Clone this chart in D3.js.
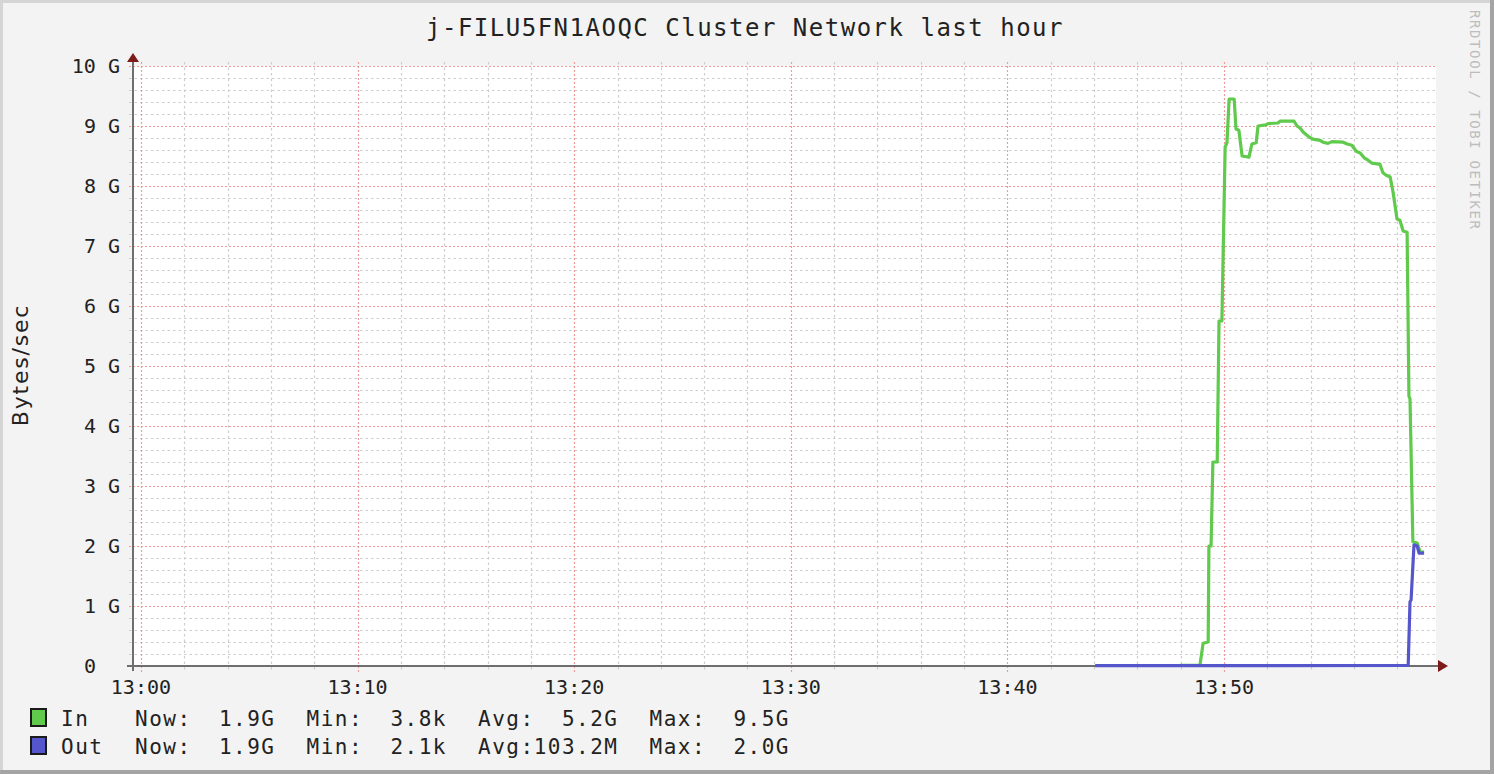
<!DOCTYPE html>
<html><head><meta charset="utf-8">
<script src="https://cdn.jsdelivr.net/npm/d3@7"></script>
<style>
html,body{margin:0;padding:0;background:#fff;}
svg{display:block;}
text{font-family:"DejaVu Sans Mono",monospace;}
</style></head><body>
<svg id="chart" width="1494" height="774"></svg>
<script>
// ---------- data ----------
const titleText = "j-FILU5FN1AOQC Cluster Network last hour";
const yLabelText = "Bytes/sec";
const watermarkText = "RRDTOOL / TOBI OETIKER";
const yTickValues = [0,1,2,3,4,5,6,7,8,9,10];            // in G
const yTickLabels = ["0  ","1 G","2 G","3 G","4 G","5 G","6 G","7 G","8 G","9 G","10 G"];
const xTickTimes = ["13:00","13:10","13:20","13:30","13:40","13:50"];
const xDomainTimes = ["12:59:38","13:59:47"];
const seriesNames = ["In","Out"];
const seriesColors = ["#5fca4b","#5555cc"];
const inTimes = ["13:47:58","13:48:53","13:49:02","13:49:16","13:49:18","13:49:24","13:49:29","13:49:41","13:49:46","13:49:54",
  "13:50:03","13:50:08","13:50:14","13:50:28","13:50:33","13:50:41","13:50:50","13:51:09","13:51:17","13:51:29",
  "13:51:34","13:51:56","13:52:02","13:52:29","13:52:35","13:53:14","13:53:22","13:53:30","13:53:39","13:53:47",
  "13:53:55","13:54:06","13:54:26","13:54:34","13:54:48","13:54:59","13:55:30","13:55:41","13:55:54","13:56:06",
  "13:56:17","13:56:28","13:56:39","13:56:50","13:57:12","13:57:20","13:57:29","13:57:40","13:57:48","13:57:59",
  "13:58:07","13:58:16","13:58:27","13:58:32","13:58:35","13:58:43","13:58:55","13:59:03","13:59:14"];
const inValues = [0.01,0.01,0.38,0.40,2.0,2.0,3.4,3.4,5.75,5.75,
  8.65,8.72,9.45,9.45,8.95,8.93,8.5,8.48,8.7,8.72,
  9.0,9.02,9.04,9.05,9.08,9.08,9.0,8.97,8.9,8.86,
  8.82,8.78,8.76,8.73,8.71,8.74,8.73,8.7,8.68,8.58,
  8.55,8.47,8.43,8.38,8.36,8.22,8.18,8.15,7.9,7.45,
  7.43,7.25,7.23,4.5,4.45,2.07,2.05,1.9,1.9];
const outTimes = ["13:44:03","13:58:30","13:58:35","13:58:38","13:58:46","13:58:55","13:59:00","13:59:14"];
const outValues = [0.005,0.01,1.07,1.1,2.02,2.0,1.88,1.88];
const legendNow = ["1.9G","1.9G"];
const legendMin = ["3.8k","2.1k"];
const legendAvg = ["5.2G","103.2M"];
const legendMax = ["9.5G","2.0G"];

// ---------- layout ----------
const W = 1494, H = 774;
const L = 133, R = 1436, T = 66, B = 666;
const parse = d3.timeParse("%H:%M:%S");
const svg = d3.select("#chart");

// background + 3D frame
svg.append("rect").attr("width",W).attr("height",H).attr("fill","#f3f3f3");
svg.append("rect").attr("x",0).attr("y",0).attr("width",W).attr("height",3).attr("fill","#d5d5d5");
svg.append("rect").attr("x",0).attr("y",0).attr("width",3).attr("height",H).attr("fill","#d5d5d5");
svg.append("rect").attr("x",0).attr("y",H-4).attr("width",W).attr("height",4).attr("fill","#a4a4a4");
svg.append("rect").attr("x",W-4).attr("y",0).attr("width",4).attr("height",H).attr("fill","#a4a4a4");

const x = d3.scaleTime().domain(xDomainTimes.map(parse)).range([L,R]);
const y = d3.scaleLinear().domain([0,10]).range([B,T]);

svg.append("rect").attr("x",L).attr("y",T).attr("width",R-L).attr("height",B-T).attr("fill","#ffffff");

// grid
const g = svg.append("g");
const minorY = d3.range(1,50).map(i=>i*0.2).filter(v=>Math.abs(v-Math.round(v))>1e-6);
const minorX = x.ticks(d3.timeMinute.every(2)).filter(d=>d.getMinutes()%10!==0);
const majorX = x.ticks(d3.timeMinute.every(10));
g.selectAll(".mny").data(minorY).join("line")
  .attr("x1",L-4).attr("x2",R+1).attr("y1",d=>Math.round(y(d))+0.5).attr("y2",d=>Math.round(y(d))+0.5)
  .attr("stroke","#cdcdcd").attr("stroke-width",1.2).attr("stroke-dasharray","2.5,3");
g.selectAll(".mnx").data(minorX).join("line")
  .attr("y1",T-4).attr("y2",B+5).attr("x1",d=>Math.round(x(d))+0.5).attr("x2",d=>Math.round(x(d))+0.5)
  .attr("stroke","#cdcdcd").attr("stroke-width",1.2).attr("stroke-dasharray","2.5,3");
g.selectAll(".mjy").data(yTickValues).join("line")
  .attr("x1",L-4).attr("x2",R+1).attr("y1",d=>Math.round(y(d))+0.5).attr("y2",d=>Math.round(y(d))+0.5)
  .attr("stroke","#f29a9a").attr("stroke-width",1.2).attr("stroke-dasharray","2,2");
g.selectAll(".mjx").data(majorX).join("line")
  .attr("y1",T-4).attr("y2",B+6).attr("x1",d=>Math.round(x(d))+0.5).attr("x2",d=>Math.round(x(d))+0.5)
  .attr("stroke","#f29a9a").attr("stroke-width",1.2).attr("stroke-dasharray","2,2");

// axes lines + arrows
svg.append("line").attr("x1",L).attr("x2",L).attr("y1",B+5).attr("y2",T-4)
  .attr("stroke","#6e6e6e").attr("stroke-width",2);
svg.append("line").attr("x1",L-6).attr("x2",R+2).attr("y1",B).attr("y2",B)
  .attr("stroke","#6e6e6e").attr("stroke-width",2);
svg.append("path").attr("d",`M${L-6},${T-4}L${L+6},${T-4}L${L},${T-13}Z`).attr("fill","#7d1a1a");
svg.append("path").attr("d",`M${R+2},${B-6}L${R+2},${B+6}L${R+12},${B}Z`).attr("fill","#7d1a1a");

// tick labels
svg.append("g").selectAll("text").data(yTickValues).join("text")
  .attr("x",120).attr("y",d=>y(d)).attr("dy","0.36em").attr("text-anchor","end")
  .style("white-space","pre").attr("font-size",20).attr("fill","#222")
  .text((d,i)=>yTickLabels[i]);
svg.append("g").selectAll("text").data(xTickTimes).join("text")
  .attr("x",d=>x(parse(d+":00"))).attr("y",694).attr("text-anchor","middle")
  .attr("font-size",20).attr("fill","#222").text(d=>d);

// title, y label, watermark
svg.append("text").attr("x",745).attr("y",36).attr("text-anchor","middle")
  .attr("font-size",24).attr("letter-spacing","1.5px").attr("fill","#222").text(titleText);
svg.append("text").attr("transform","translate(28,365) rotate(-90)").attr("text-anchor","middle")
  .attr("font-size",22).attr("letter-spacing","1.8px")
  .attr("fill","#222").style("font-family","'DejaVu Sans',sans-serif").text(yLabelText);
svg.append("text").attr("transform","translate(1470,10) rotate(90)").attr("text-anchor","start")
  .attr("font-size",14).attr("letter-spacing","1.6px").attr("fill","#bdbdbd").text(watermarkText);

// lines
const line = d3.line().x(d=>x(d[0])).y(d=>y(d[1]));
const inData = inTimes.map((t,i)=>[parse(t),inValues[i]]);
const outData = outTimes.map((t,i)=>[parse(t),outValues[i]]);
svg.append("path").attr("d",line(inData)).attr("fill","none").attr("stroke",seriesColors[0])
  .attr("stroke-width",3.2).attr("stroke-linejoin","round");
svg.append("path").attr("d",line(outData)).attr("fill","none").attr("stroke",seriesColors[1])
  .attr("stroke-width",3.2).attr("stroke-linejoin","round");

// legend
const rows = [726,754];
seriesNames.forEach((name,i)=>{
  const by = rows[i];
  svg.append("rect").attr("x",31).attr("y",by-17).attr("width",15).attr("height",17)
    .attr("fill",seriesColors[i]).attr("stroke","#1a1a1a").attr("stroke-width",2);
  const lg = svg.append("g").attr("font-size",21).attr("fill","#222").attr("letter-spacing","1.5px");
  lg.append("text").attr("x",61).attr("y",by).text(name);
  const labels = ["Now:","Min:","Avg:","Max:"];
  const vals = [legendNow[i],legendMin[i],legendAvg[i],legendMax[i]];
  labels.forEach((lab,j)=>{
    lg.append("text").attr("x",135+j*171.5).attr("y",by).text(lab);
    lg.append("text").attr("x",274+j*171.5+1.5).attr("y",by).attr("text-anchor","end").text(vals[j]);
  });
});
</script>
</body></html>
